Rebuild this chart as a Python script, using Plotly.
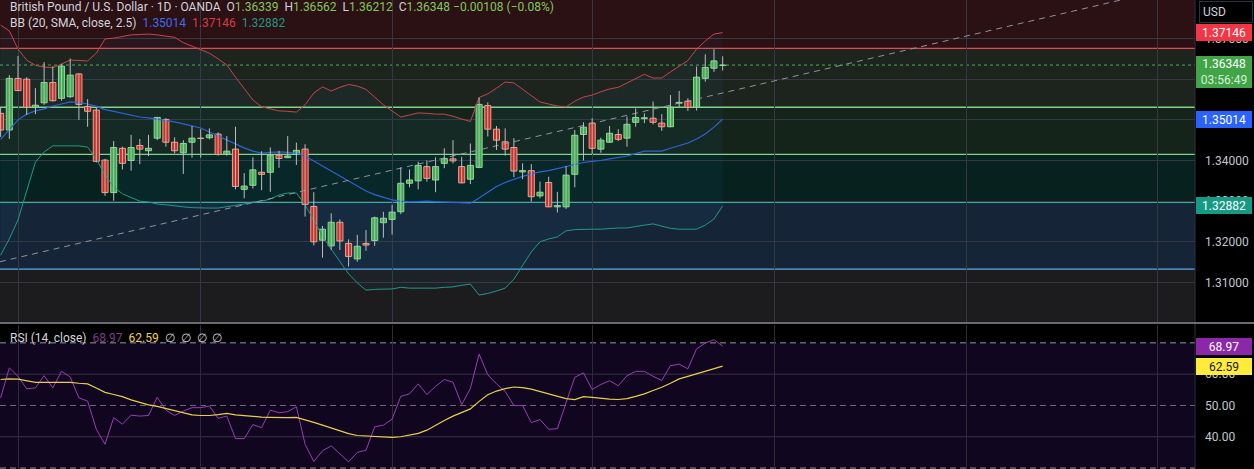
import plotly.graph_objects as go

# GBP/USD daily candles (OANDA)
opens = [1.3516, 1.3475, 1.3602, 1.3600, 1.3531, 1.3542, 1.3592, 1.3553, 1.3557, 1.3613,
         1.3533, 1.3524, 1.3401, 1.3321, 1.3430, 1.3400, 1.3437, 1.3424, 1.3455, 1.3501,
         1.3445, 1.3419, 1.3445, 1.3455, 1.3456, 1.3465, 1.3415, 1.3428, 1.3329, 1.3339,
         1.3371, 1.3371, 1.3413, 1.3407, 1.3415, 1.3428, 1.3287, 1.3204, 1.3190, 1.3248,
         1.3196, 1.3158, 1.3196, 1.3203, 1.3247, 1.3255, 1.3274, 1.3344, 1.3350, 1.3385,
         1.3352, 1.3393, 1.3404, 1.3385, 1.3354, 1.3383, 1.3535, 1.3477, 1.3446, 1.3432,
         1.3372, 1.3375, 1.3313, 1.3346, 1.3286, 1.3286, 1.3366, 1.3464, 1.3492, 1.3428,
         1.3445, 1.3464, 1.3455, 1.3494, 1.3503, 1.3504, 1.3492, 1.3483, 1.3541, 1.3546,
         1.3531, 1.3602, 1.3627, 1.36339]
highs = [1.3529, 1.3610, 1.3657, 1.3605, 1.3578, 1.3642, 1.3632, 1.3637, 1.3651, 1.3614,
         1.3551, 1.3530, 1.3404, 1.3448, 1.3434, 1.3463, 1.3453, 1.3463, 1.3507, 1.3504,
         1.3457, 1.3450, 1.3485, 1.3477, 1.3479, 1.3469, 1.3460, 1.3483, 1.3369, 1.3408,
         1.3423, 1.3432, 1.3424, 1.3460, 1.3444, 1.3440, 1.3322, 1.3239, 1.3270, 1.3255,
         1.3206, 1.3217, 1.3229, 1.3262, 1.3274, 1.3291, 1.3383, 1.3378, 1.3397, 1.3400,
         1.3408, 1.3430, 1.3450, 1.3409, 1.3442, 1.3555, 1.3543, 1.3485, 1.3479, 1.3455,
         1.3393, 1.3391, 1.3348, 1.3360, 1.3323, 1.3386, 1.3475, 1.3494, 1.3504, 1.3456,
         1.3485, 1.3477, 1.3508, 1.3528, 1.3516, 1.3545, 1.3514, 1.3561, 1.3571, 1.3553,
         1.3631, 1.3661, 1.3674, 1.36562]
lows = [1.3458, 1.3453, 1.3571, 1.3512, 1.3514, 1.3537, 1.3545, 1.3547, 1.3554, 1.3500,
        1.3483, 1.3395, 1.3313, 1.3301, 1.3378, 1.3375, 1.3391, 1.3411, 1.3450, 1.3434,
        1.3418, 1.3367, 1.3407, 1.3407, 1.3452, 1.3412, 1.3412, 1.3329, 1.3307, 1.3331,
        1.3327, 1.3323, 1.3382, 1.3406, 1.3389, 1.3262, 1.3191, 1.3161, 1.3180, 1.3180,
        1.3139, 1.3151, 1.3178, 1.3190, 1.3210, 1.3218, 1.3268, 1.3334, 1.3329, 1.3348,
        1.3322, 1.3381, 1.3393, 1.3344, 1.3342, 1.3381, 1.3459, 1.3426, 1.3412, 1.3359,
        1.3354, 1.3299, 1.3307, 1.3285, 1.3272, 1.3281, 1.3334, 1.3400, 1.3416, 1.3419,
        1.3444, 1.3448, 1.3434, 1.3483, 1.3492, 1.3489, 1.3473, 1.3482, 1.3531, 1.3522,
        1.3523, 1.3594, 1.3618, 1.36212]
closes = [1.3475, 1.3602, 1.3572, 1.3531, 1.3536, 1.3592, 1.3547, 1.3632, 1.3610, 1.3538,
          1.3521, 1.3398, 1.3321, 1.3432, 1.3393, 1.3432, 1.3428, 1.3430, 1.3506, 1.3445,
          1.3424, 1.3442, 1.3455, 1.3454, 1.3463, 1.3415, 1.3423, 1.3336, 1.3337, 1.3377,
          1.3366, 1.3413, 1.3405, 1.3411, 1.3425, 1.3292, 1.3200, 1.3231, 1.3248, 1.3202,
          1.3164, 1.3189, 1.3192, 1.3259, 1.3258, 1.3273, 1.3344, 1.3352, 1.3388, 1.3356,
          1.3385, 1.3405, 1.3399, 1.3345, 1.3388, 1.3538, 1.3477, 1.3450, 1.3428, 1.3374,
          1.3375, 1.3311, 1.3322, 1.3286, 1.3289, 1.3364, 1.3462, 1.3482, 1.3430, 1.3450,
          1.3467, 1.3452, 1.3489, 1.3506, 1.3505, 1.3494, 1.3483, 1.3531, 1.3543, 1.3531,
          1.3605, 1.3629, 1.3645, 1.36348]

# Bollinger bands (20, SMA, close, 2.5)
bb_upper = [1.3733, 1.3719, 1.3674, 1.3647, 1.3634, 1.3630, 1.3628, 1.3637, 1.3647, 1.3646,
            1.3645, 1.3664, 1.3699, 1.3701, 1.3705, 1.3709, 1.3710, 1.3711, 1.3709, 1.3706,
            1.3703, 1.3690, 1.3682, 1.3674, 1.3664, 1.3650, 1.3635, 1.3605, 1.3576, 1.3549,
            1.3532, 1.3527, 1.3522, 1.3521, 1.3519, 1.3537, 1.3566, 1.3581, 1.3571, 1.3580,
            1.3587, 1.3583, 1.3575, 1.3556, 1.3537, 1.3522, 1.3507, 1.3512, 1.3517, 1.3516,
            1.3514, 1.3514, 1.3509, 1.3502, 1.3496, 1.3555, 1.3564, 1.3578, 1.3593, 1.3591,
            1.3576, 1.3559, 1.3544, 1.3539, 1.3534, 1.3532, 1.3546, 1.3556, 1.3561, 1.3569,
            1.3576, 1.3580, 1.3591, 1.3603, 1.3612, 1.3603, 1.3603, 1.3618, 1.3632, 1.3646,
            1.3674, 1.3694, 1.3711, 1.37146]
bb_basis = [1.3452, 1.3477, 1.3500, 1.3514, 1.3522, 1.3527, 1.3534, 1.3539, 1.3544, 1.3543,
            1.3539, 1.3533, 1.3525, 1.3521, 1.3516, 1.3511, 1.3507, 1.3505, 1.3502, 1.3498,
            1.3495, 1.3490, 1.3485, 1.3480, 1.3470, 1.3460, 1.3450, 1.3441, 1.3431, 1.3423,
            1.3418, 1.3420, 1.3421, 1.3420, 1.3418, 1.3411, 1.3399, 1.3386, 1.3375, 1.3363,
            1.3350, 1.3337, 1.3325, 1.3316, 1.3309, 1.3303, 1.3300, 1.3298, 1.3299, 1.3300,
            1.3299, 1.3298, 1.3298, 1.3297, 1.3295, 1.3308, 1.3323, 1.3336, 1.3346, 1.3354,
            1.3361, 1.3367, 1.3372, 1.3375, 1.3380, 1.3385, 1.3390, 1.3395, 1.3398, 1.3400,
            1.3404, 1.3407, 1.3411, 1.3417, 1.3423, 1.3423, 1.3423, 1.3430, 1.3436, 1.3443,
            1.3453, 1.3465, 1.3482, 1.35014]
bb_lower = [1.3167, 1.3207, 1.3254, 1.3327, 1.3396, 1.3421, 1.3436, 1.3436, 1.3436, 1.3436,
            1.3433, 1.3404, 1.3364, 1.3335, 1.3318, 1.3308, 1.3300, 1.3298, 1.3293, 1.3291,
            1.3288, 1.3286, 1.3284, 1.3283, 1.3283, 1.3283, 1.3286, 1.3289, 1.3293, 1.3298,
            1.3300, 1.3305, 1.3315, 1.3320, 1.3320, 1.3291, 1.3254, 1.3214, 1.3182, 1.3150,
            1.3121, 1.3099, 1.3081, 1.3083, 1.3084, 1.3084, 1.3088, 1.3086, 1.3086, 1.3086,
            1.3086, 1.3088, 1.3089, 1.3093, 1.3096, 1.3069, 1.3073, 1.3079, 1.3086, 1.3108,
            1.3140, 1.3175, 1.3200, 1.3207, 1.3212, 1.3227, 1.3230, 1.3231, 1.3231, 1.3231,
            1.3233, 1.3234, 1.3234, 1.3238, 1.3241, 1.3244, 1.3239, 1.3233, 1.3231, 1.3231,
            1.3231, 1.3241, 1.3256, 1.32882]

# RSI (14, close) and its moving average
rsi = [52.4, 62.0, 59.3, 55.3, 55.6, 59.5, 55.6, 60.9, 59.1, 52.4,
       51.4, 42.4, 37.6, 46.1, 44.0, 46.9, 46.6, 46.8, 52.6, 48.5,
       46.8, 48.2, 49.3, 49.3, 49.8, 45.9, 46.6, 39.4, 39.4, 43.9,
       42.9, 48.5, 47.7, 48.0, 49.6, 37.6, 32.1, 35.5, 37.1, 34.4,
       32.0, 35.0, 35.7, 43.2, 43.7, 45.6, 52.9, 53.7, 56.9, 53.5,
       56.1, 58.3, 57.4, 50.3, 55.4, 66.4, 59.8, 56.9, 54.5, 50.0,
       50.0, 44.5, 45.5, 42.4, 42.6, 50.9, 59.0, 60.4, 55.1, 56.7,
       57.9, 56.3, 59.5, 60.9, 60.9, 59.3, 58.0, 62.7, 63.2, 61.7,
       68.1, 69.9, 71.0, 68.97]
rsi_ma = [58.3, 58.5, 58.4, 57.9, 57.4, 57.4, 57.4, 57.4, 57.4, 57.1,
          56.9, 55.6, 54.2, 53.5, 52.8, 51.8, 51.0, 50.2, 49.7, 49.0,
          48.2, 47.5, 47.0, 46.8, 46.8, 47.1, 47.5, 47.0, 46.7, 46.4,
          46.3, 46.2, 46.1, 46.1, 46.2, 45.5, 44.6, 43.7, 42.8, 41.8,
          41.0, 40.4, 40.2, 40.1, 40.0, 39.8, 40.0, 40.5, 41.1, 42.1,
          43.7, 45.2, 46.6, 47.7, 48.9, 51.3, 53.4, 54.6, 55.4, 55.9,
          55.7, 55.2, 54.5, 53.7, 52.9, 52.2, 51.9, 52.8, 52.6, 52.2,
          52.0, 51.9, 52.2, 52.9, 53.7, 54.8, 55.8, 57.1, 58.5, 59.3,
          60.1, 60.8, 61.8, 62.59]

# drawings: horizontal levels (top to bottom) and the dashed trend line
zone_levels = [1.3676, 1.3531, 1.3415, 1.3297, 1.3133]
zone_line_colors = ["#e04a52", "#84d486", "#84d486", "#2fb3a2", "#5aa9e6"]
zone_fills = ["#2b1014", "#1d231d", "#15241a", "#06211e", "#162437", "#1c1c1e"]
trend_x = [-0.07, 128.8]
trend_y = [1.3151, 1.3795]

month_ticks = [2, 23, 45, 68, 89, 111, 133]
price_ticks = [1.31, 1.32, 1.33, 1.34, 1.35, 1.36, 1.37]
price_hidden = [1.35, 1.36]        # labels sitting fully under the price tags
rsi_ticks = [30, 40, 50, 60, 70]
rsi_hidden = [70]
rsi_grid = [40, 60]
rsi_levels = [70, 50, 30]

x_range = [-0.07, 137.3]
price_range = [1.30027, 1.37948]
rsi_range = [29.7, 75.7]

GREEN = "#43b049"
GREEN_EDGE = "#8de090"
RED = "#d42a1e"
RED_EDGE = "#f7a38c"
TXT = "#d1d4dc"
VAL = "#80c95c"
FONT = "Roboto"

idx = list(range(len(closes)))
up = [c >= o for o, c in zip(opens, closes)]
body_base = [min(o, c) for o, c in zip(opens, closes)]
body_h = [max(abs(c - o), 0.00002) for o, c in zip(opens, closes)]

wick_x, wick_y = [], []
for i, h, l in zip(idx, highs, lows):
    wick_x += [i, i, None]
    wick_y += [l, h, None]

fig = go.Figure()

# bollinger bands
fig.add_trace(go.Scatter(x=idx, y=bb_upper, mode="lines", line=dict(color="#c8444c", width=1)))
fig.add_trace(go.Scatter(x=idx, y=bb_lower, mode="lines", line=dict(color="#1f9a88", width=1),
                         fill="tonexty", fillcolor="rgba(33,150,243,0.05)"))
fig.add_trace(go.Scatter(x=idx, y=bb_basis, mode="lines", line=dict(color="#2f63d6", width=1.2)))

# trend line
fig.add_trace(go.Scatter(x=trend_x, y=trend_y, mode="lines",
                         line=dict(color="#8f939c", width=1, dash="6px,5px")))

# candles
fig.add_trace(go.Scatter(x=wick_x, y=wick_y, mode="lines", line=dict(color="#bdbdbd", width=1)))
fig.add_trace(go.Bar(x=idx, y=body_h, base=body_base, width=0.7,
                     marker=dict(color=[GREEN if u else RED for u in up],
                                 line=dict(color=[GREEN_EDGE if u else RED_EDGE for u in up], width=1))))

# RSI pane
fig.add_trace(go.Scatter(x=idx, y=rsi, mode="lines", line=dict(color="#9c3bb5", width=1),
                         xaxis="x2", yaxis="y2"))
fig.add_trace(go.Scatter(x=idx, y=rsi_ma, mode="lines", line=dict(color="#e8cf4a", width=1.2),
                         xaxis="x2", yaxis="y2"))

shapes = []
bounds = [price_range[1]] + zone_levels + [price_range[0]]
for k, fill in enumerate(zone_fills):
    shapes.append(dict(type="rect", xref="x", yref="y", x0=x_range[0], x1=x_range[1],
                       y0=bounds[k + 1], y1=bounds[k], fillcolor=fill, line_width=0, layer="below"))
for lvl, col in zip(zone_levels, zone_line_colors):
    shapes.append(dict(type="line", xref="x", yref="y", x0=x_range[0], x1=x_range[1], y0=lvl, y1=lvl,
                       line=dict(color=col, width=1.3), layer="below"))
shapes.append(dict(type="line", xref="x", yref="y", x0=x_range[0], x1=x_range[1],
                   y0=closes[-1], y1=closes[-1],
                   line=dict(color="#4caf50", width=1, dash="dot"), layer="below"))

shapes.append(dict(type="rect", xref="x2", yref="y2", x0=x_range[0], x1=x_range[1], y0=30, y1=70,
                   fillcolor="#100620", line_width=0, layer="below"))
for g in rsi_grid:
    shapes.append(dict(type="line", xref="x2", yref="y2", x0=x_range[0], x1=x_range[1], y0=g, y1=g,
                       line=dict(color="#3a3445", width=1), layer="below"))
for lv in rsi_levels:
    shapes.append(dict(type="line", xref="x2", yref="y2", x0=x_range[0], x1=x_range[1], y0=lv, y1=lv,
                       line=dict(color="#9598a1" if lv != 50 else "#6f6a7a", width=1, dash="6px,4px"),
                       layer="below"))

# pane separators
shapes.append(dict(type="line", xref="paper", yref="paper", x0=0.953, x1=0.953, y0=0, y1=1,
                   line=dict(color="#2f323c", width=1), layer="above"))
shapes.append(dict(type="line", xref="paper", yref="paper", x0=0, x1=1, y0=0.3113, y1=0.3113,
                   line=dict(color="#8c8f99", width=1.5), layer="above"))


def span(text, color):
    return f"<span style='color:{color}'>{text}</span>"


sp = "&#160;&#160;"
head1 = ("British Pound / U.S. Dollar · 1D · OANDA" + sp
         + "O" + span(f"{opens[-1]:.5f}", VAL) + sp
         + "H" + span(f"{highs[-1]:.5f}", VAL) + sp
         + "L" + span(f"{lows[-1]:.5f}", VAL) + sp
         + "C" + span(f"{closes[-1]:.5f}", VAL) + "&#160;" + span("−0.00108 (−0.08%)", VAL))
head2 = ("BB (20, SMA, close, 2.5)" + sp
         + span(f"{bb_basis[-1]:.5f}", "#3d6cf0") + sp
         + span(f"{bb_upper[-1]:.5f}", "#d63c46") + sp
         + span(f"{bb_lower[-1]:.5f}", "#1e9682"))
head3 = ("RSI (14, close)" + sp
         + span(f"{rsi[-1]:.2f}", "#7e3a93") + sp
         + span(f"{rsi_ma[-1]:.2f}", "#f0d43c") + sp
         + span("∅" + sp + "∅" + sp + "∅" + sp + "∅", TXT))

annotations = [
    dict(xref="paper", yref="paper", x=0.0064, y=0.9857, xanchor="left", yanchor="middle",
         text=head1, showarrow=False, font=dict(family=FONT, size=12, color=TXT)),
    dict(xref="paper", yref="paper", x=0.0064, y=0.9503, xanchor="left", yanchor="middle",
         text=head2, showarrow=False, font=dict(family=FONT, size=12, color=TXT)),
    dict(xref="paper", yref="paper", x=0.0064, y=0.2793, xanchor="left", yanchor="middle",
         text=head3, showarrow=False, font=dict(family=FONT, size=12, color=TXT)),
    dict(xref="paper", yref="paper", x=0.9561, y=0.998, xanchor="left", yanchor="top",
         text="USD", showarrow=False, align="left", width=46, borderpad=3,
         bordercolor="#2f323c", borderwidth=1, bgcolor="#000000",
         font=dict(family=FONT, size=12, color=TXT)),
]


def price_tag(value, yref, text, bg, fg="#ffffff", height=13, yanchor="middle", yshift=0):
    return dict(xref="paper", yref=yref, x=0.9537, y=value, xanchor="left", yanchor=yanchor,
                yshift=yshift, text=text, showarrow=False, width=52, height=height,
                borderpad=1, bgcolor=bg, bordercolor=bg, borderwidth=1, align="center",
                font=dict(family=FONT, size=12, color=fg))


annotations += [
    price_tag(bb_upper[-1], "y", f"{bb_upper[-1]:.5f}", "#f23645"),
    price_tag(closes[-1], "y", f"{closes[-1]:.5f}<br>" + span("03:56:49", "#d9eed9"), "#41a447",
              height=28, yanchor="top", yshift=9),
    price_tag(bb_basis[-1], "y", f"{bb_basis[-1]:.5f}", "#2962ff"),
    price_tag(bb_lower[-1], "y", f"{bb_lower[-1]:.5f}", "#159a85"),
    price_tag(rsi[-1], "y2", f"{rsi[-1]:.2f}", "#8b27a8"),
    price_tag(rsi_ma[-1], "y2", f"{rsi_ma[-1]:.2f}", "#ffeb3b", fg="#131722"),
]

grid = "#343840"
fig.update_layout(
    width=1254, height=469, autosize=False,
    margin=dict(l=0, r=0, t=0, b=0),
    paper_bgcolor="#000000", plot_bgcolor="#000000",
    showlegend=False, hovermode=False, barmode="overlay",
    font=dict(family=FONT, color=TXT),
    xaxis=dict(domain=[0, 0.953], range=x_range, anchor="y", tickvals=month_ticks,
               showticklabels=False, showgrid=True, gridcolor=grid, zeroline=False, showline=False),
    xaxis2=dict(domain=[0, 0.953], range=x_range, anchor="y2", matches="x", tickvals=month_ticks,
                showticklabels=False, showgrid=True, gridcolor="#2e2a38", zeroline=False, showline=False),
    yaxis=dict(domain=[0.3134, 1], range=price_range, side="right", anchor="x",
               tickvals=price_ticks,
               ticktext=["" if p in price_hidden else f"{p:.5f}" for p in price_ticks],
               showgrid=True, gridcolor=grid, zeroline=False, showline=False, ticks="",
               ticklabelstandoff=9, tickfont=dict(family=FONT, size=12, color="#c3c6ce")),
    yaxis2=dict(domain=[0, 0.307], range=rsi_range, side="right", anchor="x2",
                tickvals=rsi_ticks,
                ticktext=["" if r in rsi_hidden else f"{r:.2f}" for r in rsi_ticks],
                showgrid=False, zeroline=False, showline=False, ticks="",
                ticklabelstandoff=9, tickfont=dict(family=FONT, size=12, color="#c3c6ce")),
    shapes=shapes,
    annotations=annotations,
)

fig.write_html("out.html", config={"displayModeBar": False},
               post_script="document.body.style.margin='0';")
